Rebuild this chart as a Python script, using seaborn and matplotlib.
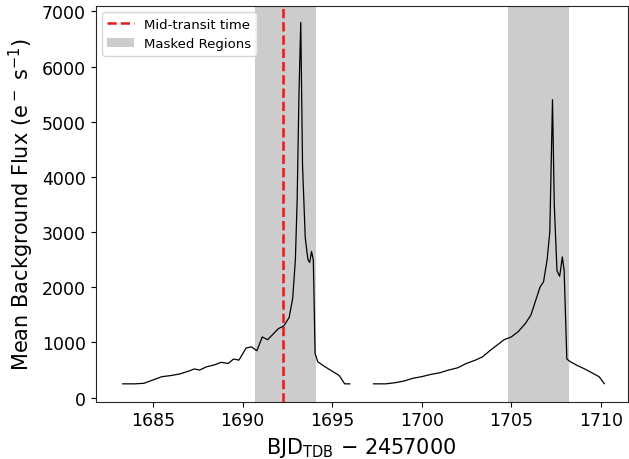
import numpy as np
import matplotlib
matplotlib.use("Agg")
import matplotlib.pyplot as plt
import seaborn as sns
import pandas as pd

# first orbit segment (time, flux)
t1 = [1683.3, 1684.0, 1684.5, 1685.0, 1685.5, 1686.0, 1686.5, 1687.0, 1687.3, 1687.6, 1688.0,
      1688.4, 1688.8, 1689.2, 1689.5, 1689.8, 1690.2, 1690.5, 1690.8, 1691.1, 1691.4, 1691.7,
      1692.0, 1692.3, 1692.6, 1692.8, 1692.95, 1693.05, 1693.15, 1693.25, 1693.35, 1693.5,
      1693.65, 1693.75, 1693.85, 1693.95, 1694.05, 1694.2, 1694.6, 1695.0, 1695.4, 1695.7, 1696.0]
f1 = [250, 250, 260, 320, 380, 400, 430, 480, 520, 500, 560, 590, 640, 620, 700, 680, 900, 920,
      850, 1100, 1050, 1150, 1250, 1300, 1450, 1800, 2500, 3600, 5500, 6800, 4200, 2900,
      2500, 2450, 2650, 2500, 800, 650, 560, 480, 400, 250, 250]
# second orbit segment
t2 = [1697.3, 1698.0, 1698.5, 1699.0, 1699.5, 1700.0, 1700.5, 1701.0, 1701.5, 1702.0, 1702.5,
      1703.0, 1703.4, 1703.8, 1704.2, 1704.6, 1705.0, 1705.4, 1705.8, 1706.1, 1706.4, 1706.6,
      1706.8, 1707.0, 1707.15, 1707.3, 1707.4, 1707.55, 1707.7, 1707.85, 1707.95, 1708.1,
      1708.3, 1708.7, 1709.1, 1709.5, 1709.9, 1710.2]
f2 = [250, 250, 270, 300, 350, 380, 420, 450, 500, 540, 620, 680, 740, 850, 950, 1050, 1100, 1200,
      1350, 1500, 1800, 2000, 2100, 2500, 3000, 5400, 3500, 2300, 2200, 2550, 2300, 700,
      650, 580, 520, 450, 380, 250]
mask_regions = [(1690.7, 1694.1), (1704.8, 1708.2)]
mid_transit = 1692.25

sns.set_style("ticks")
plt.rcParams["font.family"] = ["DejaVu Sans"]
plt.rcParams["text.color"] = "black"
plt.rcParams["axes.labelcolor"] = "black"
plt.rcParams["xtick.color"] = "black"
plt.rcParams["ytick.color"] = "black"
fig, ax = plt.subplots(figsize=(6.29, 4.6), dpi=100)

for i, (a, b) in enumerate(mask_regions):
    ax.axvspan(a, b, color="#cccccc", lw=0, label="Masked Regions" if i == 0 else None)
ax.axvline(mid_transit, color="#e41a1c", ls="--", lw=1.8, label="Mid-transit time")

df1 = pd.DataFrame({"t": t1, "f": f1})
df2 = pd.DataFrame({"t": t2, "f": f2})
sns.lineplot(data=df1, x="t", y="f", color="black", lw=0.9, ax=ax)
sns.lineplot(data=df2, x="t", y="f", color="black", lw=0.9, ax=ax)

ax.set_xlim(1681.8, 1711.5)
ax.set_ylim(-70, 7100)
ax.set_xticks([1685, 1690, 1695, 1700, 1705, 1710])
ax.set_yticks(range(0, 7001, 1000))
ax.tick_params(labelsize=12.5)
ax.set_xlabel(r"BJD$_{\mathrm{TDB}}$ $-$ 2457000", fontsize=15)
ax.set_ylabel(r"Mean Background Flux (e$^-$ s$^{-1}$)", fontsize=15)

h, l = ax.get_legend_handles_labels()
ax.legend([h[1], h[0]], [l[1], l[0]], loc="upper left", fontsize=9.5, frameon=True)

fig.subplots_adjust(left=0.152, right=0.998, top=0.985, bottom=0.125)
fig.savefig("out.png", dpi=100)
